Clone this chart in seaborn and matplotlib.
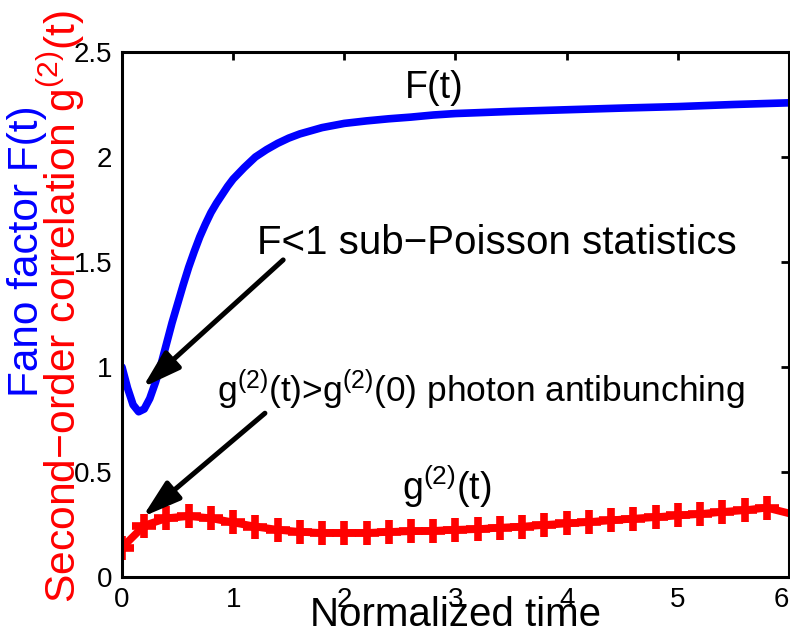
import matplotlib
matplotlib.use("Agg")
import matplotlib.pyplot as plt
import seaborn as sns

# Fano factor F(t)
fano_t = [0.0, 0.05, 0.1, 0.15, 0.2, 0.25, 0.3, 0.35, 0.4, 0.45, 0.5, 0.55, 0.6,
          0.65, 0.7, 0.75, 0.8, 0.85, 0.9, 0.95, 1.0, 1.1, 1.2, 1.3, 1.4, 1.5,
          1.6, 1.7, 1.8, 1.9, 2.0, 2.2, 2.4, 2.6, 2.8, 3.0, 3.5, 4.0, 4.5, 5.0,
          5.5, 6.0]
fano_f = [1.00, 0.90, 0.82, 0.787, 0.80, 0.85, 0.925, 1.01, 1.11, 1.21, 1.30,
          1.39, 1.475, 1.55, 1.62, 1.68, 1.735, 1.78, 1.82, 1.86, 1.895, 1.95,
          2.00, 2.035, 2.065, 2.09, 2.11, 2.125, 2.14, 2.15, 2.16, 2.172, 2.182,
          2.19, 2.20, 2.207, 2.217, 2.225, 2.233, 2.24, 2.25, 2.258]

# second-order correlation g2(t), one marker per sample
g2_t = [0.0, 0.2, 0.4, 0.6, 0.8, 1.0, 1.2, 1.4, 1.6, 1.8, 2.0, 2.2, 2.4, 2.6,
        2.8, 3.0, 3.2, 3.4, 3.6, 3.8, 4.0, 4.2, 4.4, 4.6, 4.8, 5.0, 5.2, 5.4,
        5.6, 5.8, 6.1]
g2_val = [0.14, 0.245, 0.28, 0.29, 0.28, 0.26, 0.24, 0.225, 0.215, 0.21, 0.21,
          0.21, 0.215, 0.218, 0.22, 0.225, 0.228, 0.235, 0.24, 0.248, 0.255,
          0.262, 0.27, 0.278, 0.285, 0.293, 0.30, 0.31, 0.318, 0.33, 0.29]

xticks = [0, 1, 2, 3, 4, 5, 6]
yticks = [0, 0.5, 1, 1.5, 2, 2.5]
ytick_labels = ["0", "0.5", "1", "1.5", "2", "2.5"]

sns.set_style("white")
plt.rcParams['font.family'] = ['Liberation Sans', 'DejaVu Sans']
plt.rcParams['mathtext.fontset'] = 'custom'
plt.rcParams['mathtext.rm'] = 'Liberation Sans'
plt.rcParams['mathtext.it'] = 'Liberation Sans:italic'
plt.rcParams['mathtext.default'] = 'regular'
plt.rcParams['text.color'] = 'black'
plt.rcParams['axes.labelcolor'] = 'black'

fig = plt.figure(figsize=(7.9, 6.42), dpi=100)
ax = fig.add_axes([0.1544, 0.1012, 0.8443, 0.8178])

sns.lineplot(x=fano_t, y=fano_f, color='blue', lw=5.5, ax=ax)
sns.lineplot(x=g2_t, y=g2_val, color='red', lw=5.5, marker='+', markersize=17,
             markeredgewidth=5.5, markeredgecolor='red', ax=ax)

ax.set_xlim(0, 6)
ax.set_ylim(0, 2.5)
ax.set_xticks(xticks)
ax.set_xticklabels([str(v) for v in xticks])
ax.set_yticks(yticks)
ax.set_yticklabels(ytick_labels)
ax.tick_params(direction='in', length=6, width=2, labelsize=20, pad=7,
               top=True, right=True, colors='black')
ax.get_xticklabels()[-1].set_ha('right')
for sp in ax.spines.values():
    sp.set_visible(True)
    sp.set_color('black')
    sp.set_linewidth(2.2)

ax.set_xlabel("Normalized time", fontsize=29, labelpad=-12)

# two-colour y label
fig.text(0.034, 0.608, "Fano factor F(t)", color='blue', fontsize=30.5,
         rotation=90, ha='center', va='center')
fig.text(0.078, 0.522, r"Second−order correlation $g^{(2)}(t)$", color='red',
         fontsize=30.7, rotation=90, ha='center', va='center')

# curve labels and annotations
ax.text(2.545, 2.281, "F(t)", fontsize=27, va='baseline')
ax.text(2.518, 0.367, r"$g^{(2)}(t)$", fontsize=27, va='baseline')
ax.text(1.214, 1.54, "F<1 sub−Poisson statistics", fontsize=29, va='baseline')
ax.text(0.854, 0.833, r"$g^{(2)}(t)$>$g^{(2)}(0)$ photon antibunching",
        fontsize=25.5, va='baseline')

arrow = dict(arrowstyle='-|>,head_length=1.1,head_width=0.34', color='black',
             lw=3.6, mutation_scale=21, shrinkA=0, shrinkB=0)
ax.annotate("", xy=(0.186, 0.903), xytext=(1.45, 1.51), arrowprops=arrow)
ax.annotate("", xy=(0.186, 0.287), xytext=(1.286, 0.78), arrowprops=arrow)

fig.savefig("out.png", dpi=100)
plt.close(fig)
